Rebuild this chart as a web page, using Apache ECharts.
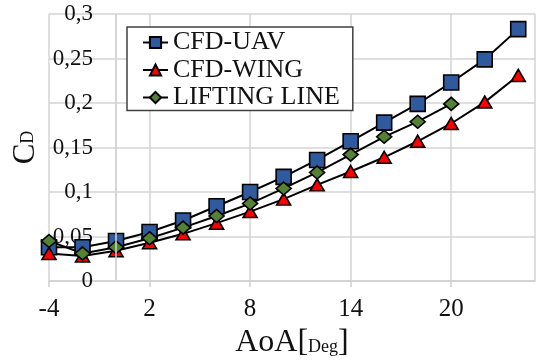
<!DOCTYPE html>
<html>
<head>
<meta charset="utf-8">
<script src="https://cdn.jsdelivr.net/npm/echarts@6/dist/echarts.min.js"></script>
<style>html,body{margin:0;padding:0;background:#fff;}#c{width:536px;height:360px;}</style>
</head>
<body>
<div id="c"></div>
<script>
const aoa = [-4, -2, 0, 2, 4, 6, 8, 10, 12, 14, 16, 18, 20, 22, 24];
const cfdUav = [0.038, 0.038, 0.045, 0.055, 0.068, 0.084, 0.100, 0.117, 0.136, 0.157, 0.178, 0.199, 0.223, 0.249, 0.283];
const cfdWing = [0.031, 0.028, 0.034, 0.043, 0.053, 0.065, 0.078, 0.092, 0.108, 0.123, 0.139, 0.157, 0.177, 0.201, 0.231];
const liftingLine = [0.045, 0.031, 0.038, 0.048, 0.060, 0.073, 0.087, 0.104, 0.122, 0.142, 0.162, 0.179, 0.199];
const seriesNames = ['CFD-UAV', 'CFD-WING', 'LIFTING LINE'];
const xTicks = [-4, 2, 8, 14, 20];
const xTickLabels = ['-4', '2', '8', '14', '20'];
const yTicks = [0, 0.05, 0.1, 0.15, 0.2, 0.25, 0.3];
const yTickLabels = ['0', '0,05', '0,1', '0,15', '0,2', '0,25', '0,3'];

function pairs(vals) { return vals.map((v, i) => [aoa[i], v]); }
function lookup(ticks, labels, v) {
  for (let i = 0; i < ticks.length; i++) if (Math.abs(ticks[i] - v) < 1e-6) return labels[i];
  return '';
}

const serif = 'Liberation Serif';
const chart = echarts.init(document.getElementById('c'), null, {renderer: 'canvas'});
const lineStyle = {color: '#000', width: 2};
const symbolBorder = {borderColor: '#000', borderWidth: 1.6};

chart.setOption({
  backgroundColor: '#fff',
  animation: false,
  grid: {left: 49, top: 14, right: 1, bottom: 79, containLabel: false, outerBoundsMode: 'none'},
  legend: {
    orient: 'vertical', left: 127, top: 27,
    itemWidth: 25, itemHeight: 14, itemGap: 1.5,
    padding: [2.5, 13, 0, 15],
    borderColor: '#404040', borderWidth: 1.5, backgroundColor: '#fff',
    textStyle: {fontFamily: serif, fontSize: 26, color: '#111'},
    data: seriesNames
  },
  xAxis: {
    type: 'value', min: -4, max: 25, interval: 6,
    axisLine: {show: true, lineStyle: {color: '#d0d0d0', width: 1.5}},
    axisTick: {show: true, length: 6, lineStyle: {color: '#d0d0d0', width: 1.5}},
    axisLabel: {
      margin: 16, fontFamily: serif, fontSize: 25, color: '#111', showMaxLabel: false,
      formatter: v => lookup(xTicks, xTickLabels, v)
    },
    splitLine: {show: true, lineStyle: {color: '#d4d4d4', width: 1.5}},
    name: '{a|AoA[}{b|Deg}{a|]}',
    nameLocation: 'middle', nameGap: 46,
    nameTextStyle: {
      rich: {
        a: {fontFamily: serif, fontSize: 32, color: '#111', verticalAlign: 'bottom'},
        b: {fontFamily: serif, fontSize: 18, color: '#111', verticalAlign: 'bottom', padding: [0, 0, 3, 0]}
      }
    }
  },
  yAxis: {
    type: 'value', min: 0, max: 0.3, interval: 0.05,
    axisLine: {show: true, lineStyle: {color: '#d0d0d0', width: 1.5}},
    axisTick: {show: false},
    axisLabel: {
      margin: -44, fontFamily: serif, fontSize: 23, color: '#111',
      formatter: v => lookup(yTicks, yTickLabels, v)
    },
    splitLine: {show: true, lineStyle: {color: '#d4d4d4', width: 1.5}},
    name: '{a|C}{b|D}',
    nameLocation: 'middle', nameGap: 8,
    nameTextStyle: {
      rich: {
        a: {fontFamily: serif, fontSize: 31, color: '#111', verticalAlign: 'bottom'},
        b: {fontFamily: serif, fontSize: 18, color: '#111', verticalAlign: 'bottom', padding: [0, 0, 4, 0]}
      }
    }
  },
  series: [
    {
      name: seriesNames[0], type: 'line', data: pairs(cfdUav),
      symbol: 'rect', symbolSize: 15,
      itemStyle: Object.assign({color: '#2F5B9E'}, symbolBorder),
      lineStyle: lineStyle,
      markLine: {
        silent: true, symbol: 'none', label: {show: false},
        lineStyle: {color: '#d4d4d4', width: 1.5, type: 'solid'},
        data: [{xAxis: 0}]
      }
    },
    {
      name: seriesNames[1], type: 'line', data: pairs(cfdWing),
      symbol: 'triangle', symbolSize: [14, 12],
      itemStyle: Object.assign({color: '#FF0000'}, symbolBorder),
      lineStyle: lineStyle
    },
    {
      name: seriesNames[2], type: 'line', data: pairs(liftingLine),
      symbol: 'diamond', symbolSize: [15, 13],
      itemStyle: Object.assign({color: '#548235'}, symbolBorder),
      lineStyle: lineStyle
    }
  ]
});
</script>
</body>
</html>
